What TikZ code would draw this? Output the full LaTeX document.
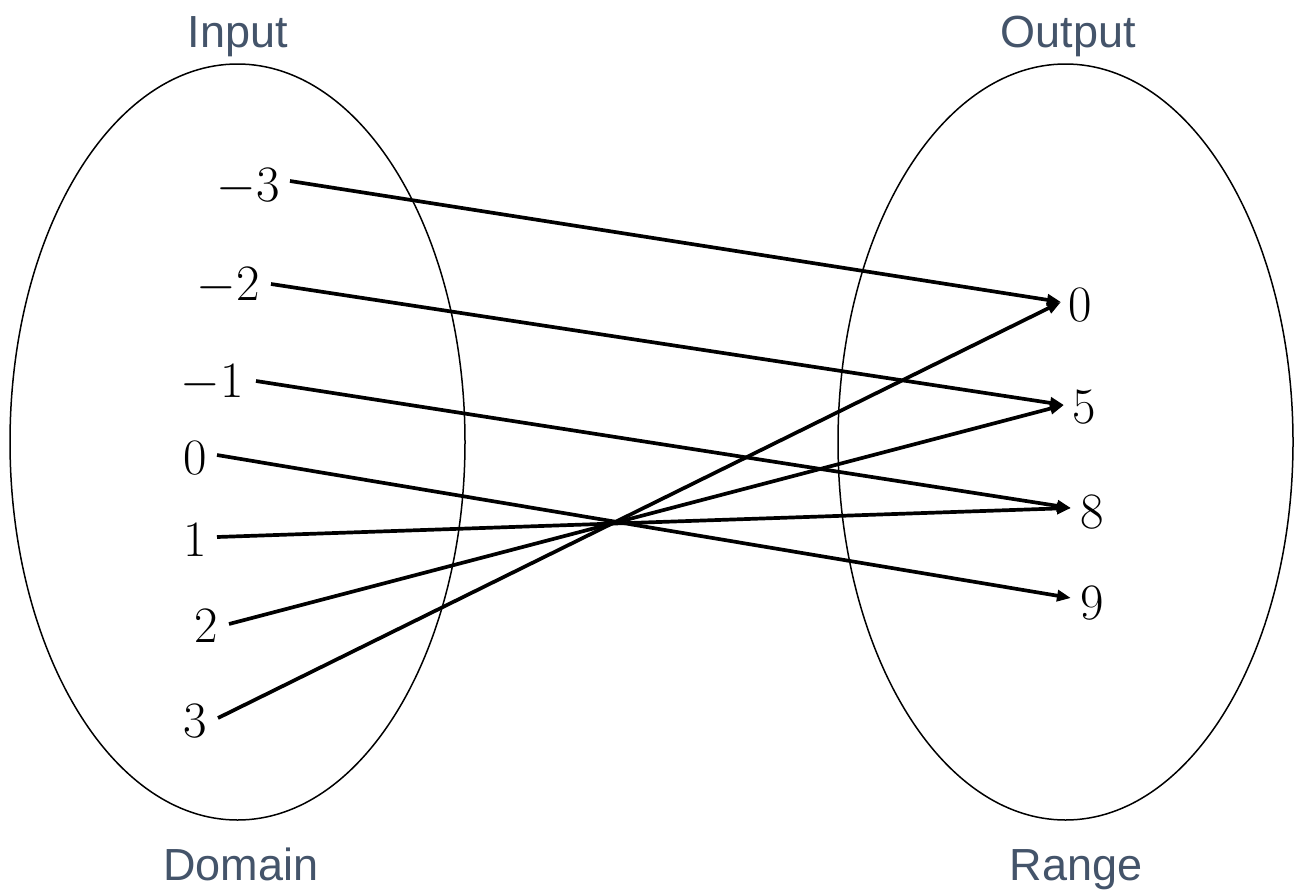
\RequirePackage{fix-cm}
\documentclass[tikz,border=0pt]{standalone}
\usepackage{fontspec}
\newfontfamily\lblfont{Liberation Sans}
\usetikzlibrary{arrows.meta}
\definecolor{lbl}{HTML}{44546A}
\newcommand{\numtext}{\rmfamily\fontsize{51}{55}\selectfont\addfontfeatures{FakeBold=0.9}}
\begin{document}
\begin{tikzpicture}[x=1pt,y=-1pt,
  setring/.style={draw=black,line width=1.5pt},
  caplabel/.style={font=\lblfont\fontsize{45}{50}\selectfont,text=lbl,inner sep=0pt,anchor=base},
  lnum/.style={font=\numtext,inner sep=0pt,anchor=east},
  rnum/.style={font=\numtext,inner sep=0pt,anchor=west},
  maparrow/.style={line width=3.7pt,-{Triangle[length=14pt,width=11pt]}}]
\fill[white] (0,0) rectangle (1295,892);
\useasboundingbox (0,0) rectangle (1295,892);
% sets
\draw[setring] (237.5,442) ellipse [x radius=227.5, y radius=378];
\draw[setring] (1065.5,442) ellipse [x radius=227.5, y radius=378];
% captions
\node[caplabel] (inp) at (238,47) {Input};
\node[caplabel] (outp) at (1068,47) {Output};
\node[caplabel] (dom) at (241,880) {Domain};
\node[caplabel] (rng) at (1076,880) {Range};
% domain values
\node[lnum] (m3) at (280,187) {$-$3};
\node[lnum] (m2) at (260,286) {$-$2};
\node[lnum] (m1) at (244,383) {$-$1};
\node[lnum] (z0) at (207,458) {0};
\node[lnum] (p1) at (207,540) {1};
\node[lnum] (p2) at (218,626) {2};
\node[lnum] (p3) at (207,721) {3};
% range values
\node[rnum] (r0) at (1068,305) {0};
\node[rnum] (r5) at (1072,407) {5};
\node[rnum] (r8) at (1080,512) {8};
\node[rnum] (r9) at (1080,603) {9};
% mapping
\draw[maparrow] ([xshift=10pt,yshift=6pt]m3.east) -- ([xshift=-7pt,yshift=3pt]r0.west);
\draw[maparrow] ([xshift=11pt,yshift=2pt]m2.east) -- ([xshift=-8pt,yshift=2pt]r5.west);
\draw[maparrow] ([xshift=12pt,yshift=2pt]m1.east) -- ([xshift=-9pt,yshift=4pt]r8.west);
\draw[maparrow] ([xshift=10pt,yshift=3pt]z0.east) -- ([xshift=-9pt,yshift=5pt]r9.west);
\draw[maparrow] ([xshift=10pt,yshift=3pt]p1.east) -- ([xshift=-9pt,yshift=4pt]r8.west);
\draw[maparrow] ([xshift=11pt,yshift=2pt]p2.east) -- ([xshift=-8pt,yshift=2pt]r5.west);
\draw[maparrow] ([xshift=11pt,yshift=3pt]p3.east) -- ([xshift=-7pt,yshift=3pt]r0.west);
\end{tikzpicture}
\end{document}
